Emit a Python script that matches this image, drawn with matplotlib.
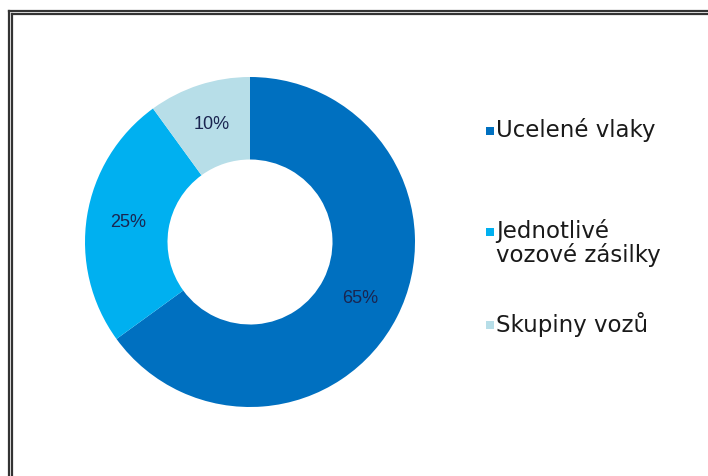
import matplotlib.pyplot as plt
import numpy as np
from matplotlib.lines import Line2D
from matplotlib.patches import Rectangle

# data
categories = ['Ucelené vlaky', 'Jednotlivé\nvozové zásilky', 'Skupiny vozů']
shares = [65, 25, 10]
colors = ['#0070C0', '#00B0F0', '#B7DEE8']

W, H = 708, 476
fig = plt.figure(figsize=(W / 100, H / 100), dpi=100)
plt.rcParams['font.family'] = ['Liberation Sans', 'DejaVu Sans']

# donut: centre (250, 242) px, outer radius ~165 px
r_px = 165
ax = fig.add_axes([(250 - r_px) / W, 1 - (242 + r_px) / H, 2 * r_px / W, 2 * r_px / H])
wedges, texts = ax.pie(shares, colors=colors, startangle=90, counterclock=False,
                       wedgeprops=dict(width=0.5, linewidth=0),
                       radius=1.0)
ax.set_xlim(-1, 1)
ax.set_ylim(-1, 1)
ax.set_aspect('equal')
ax.axis('off')

# percentage labels in the middle of the ring
start = 90
for s in shares:
    mid = np.deg2rad(start - s * 3.6 / 2)
    ax.text(0.75 * np.cos(mid), 0.75 * np.sin(mid), f'{s}%', ha='center', va='center',
            fontsize=13, color='#1a2550')
    start -= s * 3.6

# legend drawn by hand (uneven spacing as in the original)
legend_y = [131, 232, 325]
for cat, col, y in zip(categories, colors, legend_y):
    fig.add_artist(Rectangle((486 / W, 1 - (y + 4) / H), 8 / W, 8 / H,
                             transform=fig.transFigure, color=col, lw=0))
    fig.text(496 / W, 1 - (y - 13) / H, cat, ha='left', va='top',
             fontsize=16.5, color='#1a1a1a', linespacing=1.0,
             family='DejaVu Sans')

# double frame (top and left visible, right/bottom cut off)
for off in [8.5, 12]:
    fig.add_artist(Line2D([off / W, off / W], [0, 1 - (off + 2) / H],
                          transform=fig.transFigure, color='#333333', lw=1.6))
    fig.add_artist(Line2D([off / W, 1], [1 - (off + 2) / H, 1 - (off + 2) / H],
                          transform=fig.transFigure, color='#333333', lw=1.6))

fig.savefig('out.png', dpi=100)
